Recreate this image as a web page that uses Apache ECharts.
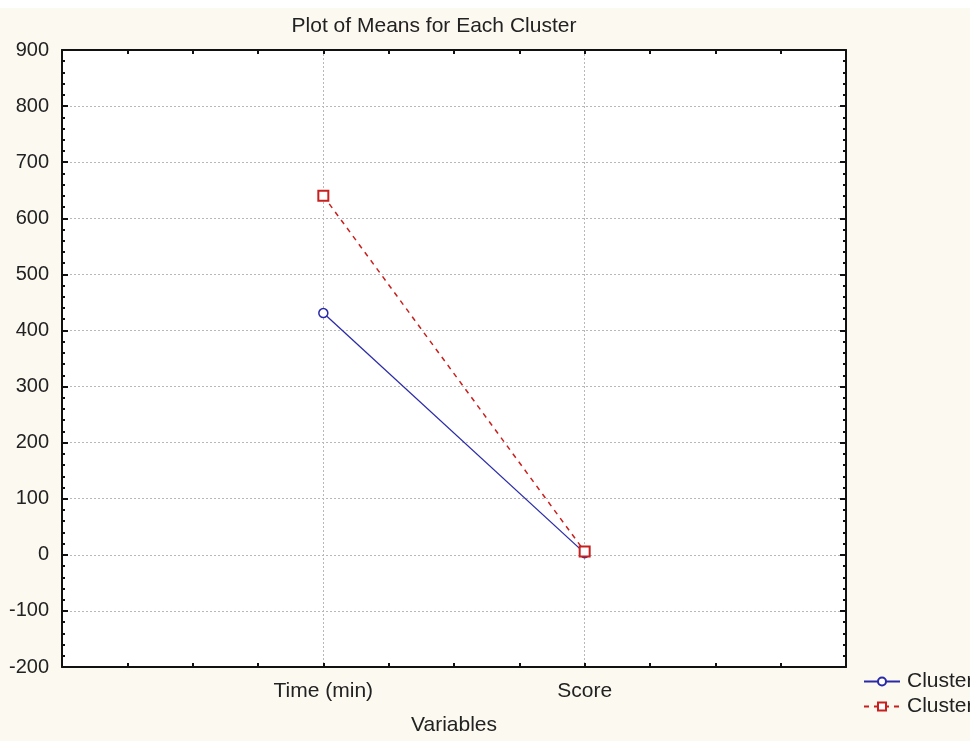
<!DOCTYPE html>
<html>
<head>
<meta charset="utf-8">
<style>
  html, body { margin: 0; padding: 0; background: #fcf9f0; }
  #chart { width: 970px; height: 741px; }
</style>
<script src="https://cdn.jsdelivr.net/npm/echarts@6/dist/echarts.min.js"></script>
</head>
<body>
<div id="chart"></div>
<script>
// Variables on the horizontal axis (placed at x = 1, 2, ...)
const categories = ['Time (min)', 'Score'];
// Cluster means for each variable
const cluster1 = [431, 3];
const cluster2 = [640, 6];
const seriesNames = ['Cluster 1', 'Cluster 2'];
const yTicks = { min: -200, max: 900, step: 100 };

const toPoints = vals => vals.map((v, i) => [i + 1, v]);

const FONT = 'Liberation Sans, Arial, sans-serif';
const TXT = '#222222';

const chart = echarts.init(document.getElementById('chart'));

const frameLine = { show: true, onZero: false, lineStyle: { color: '#111', width: 2 } };

chart.setOption({
  backgroundColor: '#fcf9f0',
  animation: false,
  textStyle: { fontFamily: FONT },
  graphic: [{
    type: 'rect', left: 0, top: 0, shape: { width: 970, height: 8 },
    style: { fill: '#ffffff' }, silent: true, z: -10
  }],
  title: {
    text: 'Plot of Means for Each Cluster',
    left: 429, top: 11, textAlign: 'center',
    textStyle: { fontFamily: FONT, fontSize: 21, fontWeight: 'normal', color: TXT }
  },
  grid: {
    left: 62, right: 124, top: 50, bottom: 71,
    show: true, backgroundColor: '#ffffff', borderWidth: 0
  },
  legend: {
    orient: 'vertical', left: 858, top: 666,
    itemWidth: 36, itemHeight: 10, itemGap: 4,
    textStyle: { fontFamily: FONT, fontSize: 21, color: TXT, padding: [0, 0, 0, 2] },
    data: seriesNames
  },
  xAxis: [{
    type: 'value', min: 0, max: 3, interval: 1,
    name: 'Variables', nameLocation: 'middle', nameGap: 48,
    nameTextStyle: { fontFamily: FONT, fontSize: 21, color: TXT },
    axisLine: frameLine,
    axisTick: { show: true, inside: true, length: 4, lineStyle: { color: '#111', width: 2 } },
    minorTick: { show: true, splitNumber: 4, length: 4, lineStyle: { color: '#111', width: 2 } },
    axisLabel: {
      margin: 14, fontFamily: FONT, fontSize: 21, color: TXT,
      formatter: v => (Number.isInteger(v) && v >= 1 && v <= categories.length) ? categories[v - 1] : ''
    },
    splitLine: { show: true, lineStyle: { color: '#b8b8b8', type: [2, 2], width: 1 } }
  }, {
    type: 'value', min: 0, max: 3, interval: 1, position: 'top',
    axisLine: frameLine,
    axisTick: { show: true, inside: true, length: 4, lineStyle: { color: '#111', width: 2 } },
    minorTick: { show: true, splitNumber: 4, length: 4, lineStyle: { color: '#111', width: 2 } },
    axisLabel: { show: false }, splitLine: { show: false }
  }],
  yAxis: [{
    type: 'value', min: yTicks.min, max: yTicks.max, interval: yTicks.step,
    axisLine: frameLine,
    axisTick: { show: true, inside: true, length: 6, lineStyle: { color: '#111', width: 2 } },
    minorTick: { show: true, splitNumber: 5, length: 3, lineStyle: { color: '#111', width: 2 } },
    axisLabel: { margin: 13, fontFamily: FONT, fontSize: 20, color: TXT },
    splitLine: { show: true, lineStyle: { color: '#b8b8b8', type: [2, 2], width: 1 } }
  }, {
    type: 'value', min: yTicks.min, max: yTicks.max, interval: yTicks.step, position: 'right',
    axisLine: frameLine,
    axisTick: { show: true, inside: true, length: 6, lineStyle: { color: '#111', width: 2 } },
    minorTick: { show: true, splitNumber: 5, length: 3, lineStyle: { color: '#111', width: 2 } },
    axisLabel: { show: false }, splitLine: { show: false }
  }],
  series: [{
    name: seriesNames[0], type: 'line',
    data: toPoints(cluster1),
    symbol: 'circle', symbolSize: 9,
    itemStyle: { color: '#ffffff', borderColor: '#2a2aa8', borderWidth: 1.5 },
    lineStyle: { color: '#2a2aa8', width: 1.3, type: 'solid' },
    z: 3
  }, {
    name: seriesNames[1], type: 'line',
    data: toPoints(cluster2),
    symbol: 'rect', symbolSize: 10,
    itemStyle: { color: '#ffffff', borderColor: '#c8201e', borderWidth: 2 },
    lineStyle: { color: '#c8201e', width: 1.5, type: [5, 5] },
    z: 4
  }]
});
</script>
</body>
</html>
